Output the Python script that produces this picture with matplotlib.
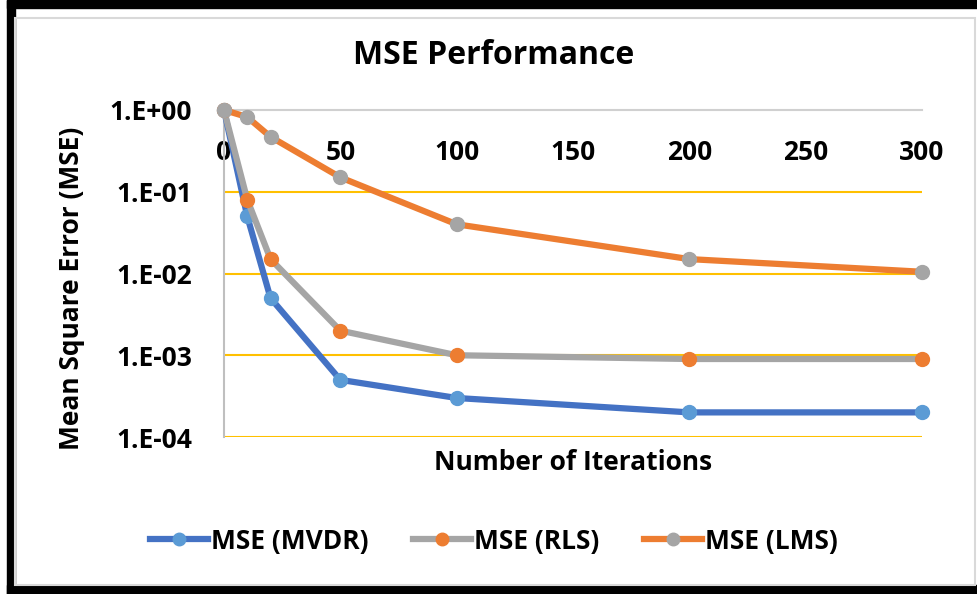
import matplotlib.pyplot as plt
from matplotlib.patches import Rectangle
from matplotlib.lines import Line2D

# Iteraciones y MSE
iteraciones = [0, 10, 20, 50, 100, 200, 300]
mse_mvdr = [1.0, 0.05, 0.005, 0.0005, 0.0003, 0.0002, 0.0002]
mse_rls = [1.0, 0.08, 0.015, 0.002, 0.001, 0.0009, 0.0009]
mse_lms = [1.0, 0.82, 0.47, 0.15, 0.04, 0.015, 0.0105]

xticks = [0, 50, 100, 150, 200, 250, 300]
yticks = [1e0, 1e-1, 1e-2, 1e-3, 1e-4]
ytick_labels = ['1.E+00', '1.E-01', '1.E-02', '1.E-03', '1.E-04']

W, H = 977, 594
plt.rcParams['font.family'] = ['Open Sans', 'DejaVu Sans']
plt.rcParams['font.weight'] = 'bold'

fig = plt.figure(figsize=(W / 100, H / 100), dpi=100)

# marco negro y borde gris claro
fig.patches.append(Rectangle((7 / W, 0), 8 / W, 1, color='black', transform=fig.transFigure))
fig.patches.append(Rectangle((7 / W, 1 - 8 / H), 1, 8 / H, color='black', transform=fig.transFigure))
fig.patches.append(Rectangle((7 / W, 0), 1, 9 / H, color='black', transform=fig.transFigure))
fig.patches.append(Rectangle((15 / W, 9 / H), (975 - 15) / W, (585 - 9 - 9) / H, fill=False,
                             edgecolor='#d9d9d9', lw=1.5, transform=fig.transFigure))

ax = fig.add_axes([224 / W, 1 - 437 / H, (922 - 224) / W, (437 - 110) / H])

series = [
    ('MSE (MVDR)', mse_mvdr, '#4472C4', '#5B9BD5'),
    ('MSE (RLS)', mse_rls, '#A5A5A5', '#ED7D31'),
    ('MSE (LMS)', mse_lms, '#ED7D31', '#A5A5A5'),
]
handles = []
for nombre, valores, c_linea, c_marca in series:
    ax.plot(iteraciones, valores, color=c_linea, lw=4.5, marker='o', ms=10,
            mfc=c_marca, mec=c_marca, clip_on=False, zorder=3)
    handles.append(Line2D([], [], color=c_linea, lw=4.5, marker='o', ms=9,
                          mfc=c_marca, mec=c_marca, label=nombre))

ax.set_yscale('log')
ax.set_ylim(1e-4, 1)
ax.set_xlim(0, 300)
ax.set_yticks(yticks)
ax.set_yticklabels(ytick_labels)
ax.minorticks_off()
ax.set_xticks(xticks)
ax.set_xticklabels([str(t) for t in xticks])

ax.xaxis.set_ticks_position('top')
ax.tick_params(axis='x', length=0, labelsize=19, pad=-40, labeltop=True, labelbottom=False)
ax.tick_params(axis='y', length=0, labelsize=19, pad=23)

for g in yticks[1:]:
    ax.axhline(g, color='#FFC000', lw=1.5, zorder=1)
for lado in ['right', 'bottom']:
    ax.spines[lado].set_visible(False)
ax.spines['left'].set_color('#bfbfbf')
ax.spines['top'].set_color('#d0d0d0')
ax.spines['left'].set_linewidth(1.5)
ax.spines['top'].set_linewidth(1.5)

fig.text(494 / W, 1 - 55 / H, 'MSE Performance', ha='center', va='center', fontsize=23)
fig.text(72 / W, 1 - 288 / H, 'Mean Square Error (MSE)', ha='center', va='center',
         rotation=90, fontsize=19)
fig.text(573 / W, 1 - 463 / H, 'Number of Iterations', ha='center', va='center', fontsize=19)

fig.legend(handles=handles, loc='center', bbox_to_anchor=(494 / W, 1 - 541 / H), ncol=3,
           frameon=False, fontsize=19, handlelength=2.2, handletextpad=0.1, columnspacing=1.7)

fig.savefig('out.png', dpi=100)
